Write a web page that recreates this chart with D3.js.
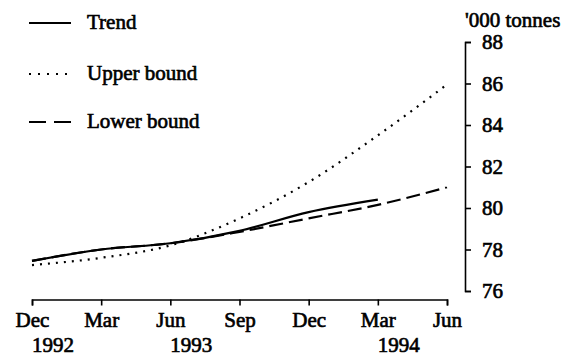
<!DOCTYPE html>
<html>
<head>
<meta charset="utf-8">
<script src="https://cdn.jsdelivr.net/npm/d3@7/dist/d3.min.js"></script>
<style>
  html, body { margin: 0; padding: 0; background: #fff; }
  svg { display: block; }
  text { font-family: "Liberation Serif", "Times New Roman", serif; fill: #000; }
</style>
</head>
<body>
<script>
// Quarterly periods along the horizontal axis
const periods = ["Dec 1992", "Mar 1993", "Jun 1993", "Sep 1993", "Dec 1993", "Mar 1994", "Jun 1994"];
const monthLabels = ["Dec", "Mar", "Jun", "Sep", "Dec", "Mar", "Jun"];
const yearLabels = ["1992", "", "1993", "", "", "1994", ""];

// Series values, '000 tonnes (trend runs to Mar 1994 only)
const trend = [77.45, 78.0, 78.3, 78.9, 79.8, 80.4, null];
const upperBound = [77.25, 77.6, 78.2, 79.5, 81.25, 83.5, 85.95];
const lowerBound = [77.45, 78.0, 78.3, 78.85, 79.5, 80.15, 81.0];

// Value axis ticks
const yTicks = [76, 78, 80, 82, 84, 86, 88];

const W = 580, H = 360;
const FONT = 21;
const TEXT_STROKE = 0.65;

const svg = d3.select("body").append("svg")
  .attr("width", W).attr("height", H);

const x = d3.scaleLinear().domain([0, periods.length - 1]).range([32, 447]);
const y = d3.scaleLinear().domain([76, 88]).range([291, 42]);
const axisY = 299.5;
const axisX = 465;

// Horizontal axis
const gx = svg.append("g")
  .attr("transform", `translate(0,${axisY})`)
  .call(d3.axisBottom(x)
    .tickValues(d3.range(periods.length))
    .tickFormat(i => monthLabels[i])
    .tickSize(6)
    .tickPadding(6.5));
gx.select(".domain").attr("stroke", "#000").attr("stroke-width", 1.6);
gx.selectAll(".tick line").attr("stroke", "#000").attr("stroke-width", 1.6);
gx.selectAll(".tick text")
  .style("font-family", "Liberation Serif, serif")
  .style("font-size", FONT + "px")
  .attr("fill", "#000").attr("stroke", "#000").attr("stroke-width", TEXT_STROKE);

// Year labels under the first month of each year
svg.append("g").selectAll("text")
  .data(yearLabels.map((t, i) => ({ t, i })).filter(d => d.t))
  .join("text")
  .attr("x", d => x(d.i))
  .attr("y", 352)
  .attr("text-anchor", "start")
  .style("font-size", FONT + "px")
  .attr("stroke", "#000").attr("stroke-width", TEXT_STROKE)
  .text(d => d.t);

// Vertical axis on the right
const gy = svg.append("g")
  .attr("transform", `translate(${axisX},0)`)
  .call(d3.axisRight(y)
    .tickValues(yTicks)
    .tickSize(6)
    .tickPadding(11));
gy.select(".domain").attr("stroke", "#000").attr("stroke-width", 1.6);
gy.selectAll(".tick line").attr("stroke", "#000").attr("stroke-width", 1.6);
gy.selectAll(".tick text")
  .style("font-family", "Liberation Serif, serif")
  .style("font-size", FONT + "px")
  .attr("fill", "#000").attr("stroke", "#000").attr("stroke-width", TEXT_STROKE);

// Unit label
svg.append("text")
  .attr("x", 465).attr("y", 27)
  .style("font-size", FONT + "px")
  .attr("stroke", "#000").attr("stroke-width", TEXT_STROKE)
  .text("'000 tonnes");

// Series lines
const series = [
  { name: "Trend", values: trend, dash: null, width: 2.2 },
  { name: "Upper bound", values: upperBound, dash: "2,6", width: 2.2 },
  { name: "Lower bound", values: lowerBound, dash: "14,6", width: 2.2 }
];

const line = d3.line()
  .defined(d => d != null)
  .x((d, i) => x(i))
  .y(d => y(d))
  .curve(d3.curveMonotoneX);

svg.append("g").selectAll("path")
  .data(series)
  .join("path")
  .attr("d", d => line(d.values))
  .attr("fill", "none")
  .attr("stroke", "#000")
  .attr("stroke-width", d => d.width)
  .attr("stroke-dasharray", d => d.dash);

// Legend
const legendRows = [23, 74, 122];
const legend = svg.append("g").selectAll("g")
  .data(series)
  .join("g")
  .attr("transform", (d, i) => `translate(0,${legendRows[i]})`);
legend.append("line")
  .attr("x1", 29).attr("x2", 71)
  .attr("y1", 0).attr("y2", 0)
  .attr("stroke", "#000")
  .attr("stroke-width", d => d.width)
  .attr("stroke-dasharray", d => d.name === "Lower bound" ? "17,8" : (d.dash ? "2,7" : null));
legend.append("text")
  .attr("x", 87).attr("y", 0)
  .attr("dy", "0.3em")
  .style("font-size", FONT + "px")
  .attr("stroke", "#000").attr("stroke-width", TEXT_STROKE)
  .text(d => d.name);
</script>
</body>
</html>
